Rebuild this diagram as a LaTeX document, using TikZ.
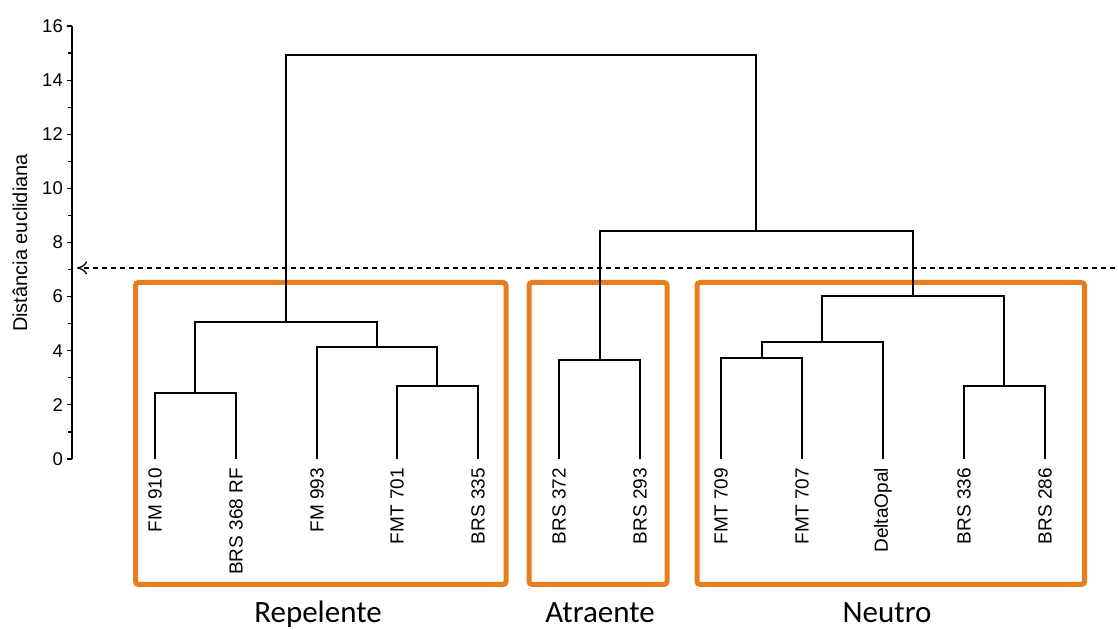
\documentclass[tikz,border=0pt]{standalone}
\usepackage{fontspec}
\setmainfont{Liberation Sans}
\newfontfamily\grpfont{Carlito}
\usetikzlibrary{arrows.meta}
\definecolor{boxorange}{RGB}{232,125,30}

\begin{document}
\begin{tikzpicture}[x=1pt, y=27.06pt,
    tree/.style={line width=1.3pt, black},
    leaflabel/.style={rotate=90, anchor=east, inner sep=0pt, font=\fontsize{19}{19}\selectfont},
    ticklabel/.style={anchor=east, inner sep=0pt, font=\fontsize{18.5}{18.5}\selectfont},
    grouplabel/.style={anchor=base, inner sep=0pt, font=\grpfont\fontsize{31}{31}\selectfont},
    groupbox/.style={draw=boxorange, line width=5pt, rounded corners=3pt}]
  \useasboundingbox (0,-6.319) rectangle (1118,16.962);

  % axis
  \draw[line width=1.2pt] (72,0) -- (72,16);
  \foreach \v in {0,2,...,16}{
    \draw[line width=1.2pt] (72,\v) -- (67,\v);
    \node[ticklabel] (t\v) at (63,\v) {\v};
  }
  \foreach \v in {1,3,...,15}
    \draw[line width=1.2pt] (72,\v) -- (68,\v);
  \node[rotate=90, inner sep=0pt, font=\fontsize{20}{20}\selectfont] (ytitle) at (20,7.98) {Distância euclidiana};

  % groups
  \draw[groupbox] (135.5,6.523) rectangle (506,-4.638);
  \draw[groupbox] (529,6.523) rectangle (667,-4.638);
  \draw[groupbox] (697,6.523) rectangle (1084.5,-4.638);
  \node[grouplabel] (rep) at (318,-6.06) {Repelente};
  \node[grouplabel] (atr) at (600,-6.06) {Atraente};
  \node[grouplabel] (neu) at (887,-6.06) {Neutro};

  % leaves
  \foreach \x [count=\i] in {155,236,317,397,478,559,640,721,802,883,964,1045}
    \coordinate (l\i) at (\x,0);
  \foreach \name [count=\i] in {FM 910,BRS 368 RF,FM 993,FMT 701,BRS 335,BRS 372,BRS 293,FMT 709,FMT 707,DeltaOpal,BRS 336,BRS 286}
    \node[leaflabel] (n\i) at ([yshift=-9pt]l\i) {\name};

  % merges
  \coordinate (m1) at (195,2.44);
  \coordinate (m2) at (437,2.70);
  \coordinate (m3) at (377,4.14);
  \coordinate (m4) at (286,5.06);
  \coordinate (m5) at (600,3.66);
  \coordinate (m6) at (762,3.73);
  \coordinate (m7) at (822,4.32);
  \coordinate (m8) at (1004,2.70);
  \coordinate (m9) at (913,6.02);
  \coordinate (m10) at (756,8.43);
  \coordinate (m11) at (521,14.93);

  \draw[tree] (l1) |- (m1) -| (l2);
  \draw[tree] (l4) |- (m2) -| (l5);
  \draw[tree] (l3) |- (m3) -| (m2);
  \draw[tree] (m1) |- (m4) -| (m3);
  \draw[tree] (l6) |- (m5) -| (l7);
  \draw[tree] (l8) |- (m6) -| (l9);
  \draw[tree] (m6) |- (m7) -| (l10);
  \draw[tree] (l11) |- (m8) -| (l12);
  \draw[tree] (m7) |- (m9) -| (m8);
  \draw[tree] (m5) |- (m10) -| (m9);
  \draw[tree] (m4) |- (m11) -| (m10);

  % cut level
  \coordinate (cutR) at (1115,7.06);
  \coordinate (cutL) at (77,7.06);
  \draw[line width=1.3pt, dash pattern=on 5pt off 4pt, -{To[length=10pt,width=13pt]}] (cutR) -- (cutL);
\end{tikzpicture}
\end{document}
